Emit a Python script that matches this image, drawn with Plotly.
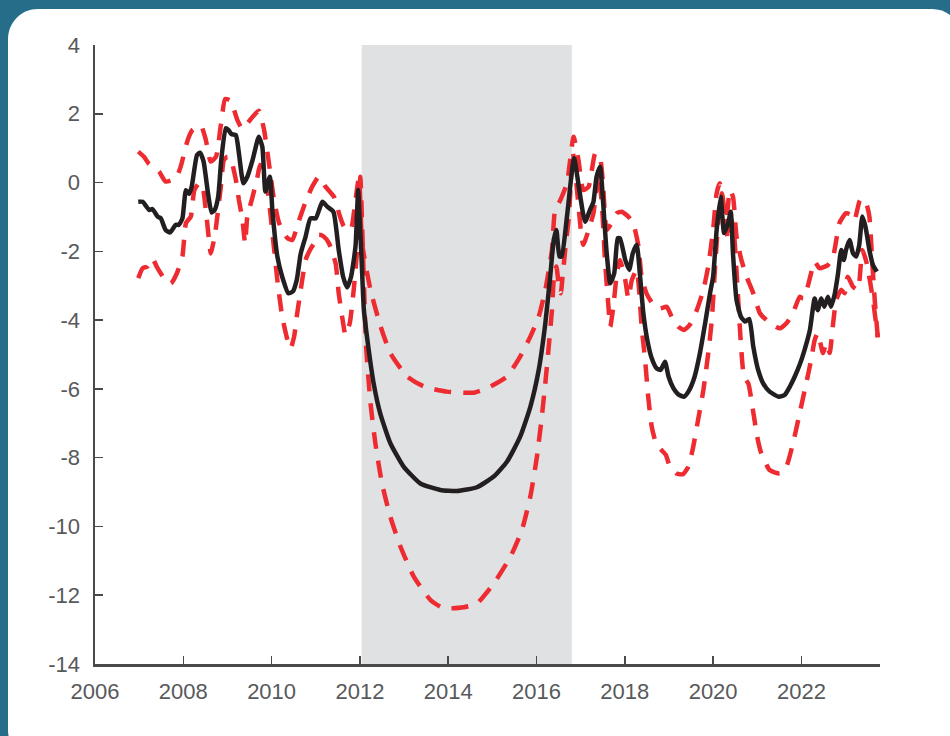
import plotly.graph_objects as go

# ---------------- data ----------------
black_x = [2006.98, 2007.08, 2007.23, 2007.30, 2007.42, 2007.49, 2007.60, 2007.70, 2007.83, 2007.90,
           2007.98, 2008.06, 2008.13, 2008.19, 2008.31, 2008.38, 2008.46, 2008.55, 2008.64, 2008.71,
           2008.79, 2008.86, 2008.96, 2009.02, 2009.09, 2009.19, 2009.26, 2009.36, 2009.45, 2009.57,
           2009.71, 2009.79, 2009.86, 2009.96, 2010.02, 2010.13, 2010.24, 2010.38, 2010.48, 2010.57,
           2010.66, 2010.77, 2010.88, 2011.00, 2011.15, 2011.26, 2011.40, 2011.52, 2011.62, 2011.71,
           2011.80, 2011.90, 2011.96, 2012.00, 2012.04, 2012.09, 2012.20, 2012.31, 2012.46, 2012.69,
           2012.99, 2013.37, 2013.82, 2014.20, 2014.65, 2015.03, 2015.33, 2015.63, 2015.86, 2016.05,
           2016.20, 2016.31, 2016.39, 2016.45, 2016.52, 2016.57, 2016.69, 2016.85, 2016.97, 2017.10,
           2017.21, 2017.29, 2017.36, 2017.44, 2017.51, 2017.59, 2017.67, 2017.76, 2017.84, 2017.89,
           2018.01, 2018.10, 2018.18, 2018.27, 2018.34, 2018.42, 2018.51, 2018.61, 2018.72, 2018.81,
           2018.91, 2018.99, 2019.10, 2019.21, 2019.34, 2019.44, 2019.57, 2019.70, 2019.82, 2019.93,
           2020.00, 2020.08, 2020.17, 2020.25, 2020.34, 2020.40, 2020.45, 2020.53, 2020.63, 2020.72,
           2020.82, 2020.91, 2021.02, 2021.13, 2021.28, 2021.49, 2021.62, 2021.74, 2021.85, 2021.96,
           2022.07, 2022.19, 2022.30, 2022.37, 2022.45, 2022.52, 2022.60, 2022.67, 2022.75, 2022.83,
           2022.90, 2022.96, 2023.01, 2023.09, 2023.17, 2023.24, 2023.31, 2023.38, 2023.45, 2023.54,
           2023.62, 2023.71]
black_y = [-0.56, -0.56, -0.80, -0.77, -0.99, -1.04, -1.38, -1.45, -1.23, -1.23,
           -1.04, -0.22, -0.33, -0.12, 0.80, 0.87, 0.61, -0.22, -0.87, -0.80,
           -0.41, 0.66, 1.58, 1.53, 1.41, 1.38, 0.85, -0.02, 0.17, 0.66,
           1.33, 1.04, -0.26, 0.17, -0.85, -2.15, -2.74, -3.22, -3.17, -2.83,
           -2.06, -1.57, -1.04, -1.04, -0.56, -0.70, -0.85, -1.96, -2.74, -3.05,
           -2.74, -1.86, -0.22, -1.20, -2.30, -3.70, -4.87, -5.83, -6.71, -7.58,
           -8.26, -8.75, -8.94, -8.97, -8.86, -8.55, -8.12, -7.39, -6.52, -5.45,
           -4.09, -2.74, -1.67, -1.38, -2.15, -2.15, -0.99, 0.71, -0.22, -1.14,
           -0.80, -0.56, 0.17, 0.46, -0.60, -2.06, -2.93, -2.64, -1.62, -1.62,
           -2.25, -2.54, -2.06, -1.81, -2.64, -3.80, -4.58, -5.11, -5.40, -5.45,
           -5.21, -5.64, -5.98, -6.16, -6.23, -6.08, -5.69, -4.97, -4.09, -3.22,
           -2.74, -1.38, -0.41, -1.47, -1.18, -0.85, -2.06, -3.41, -3.90, -4.04,
           -3.97, -4.77, -5.45, -5.83, -6.08, -6.23, -6.18, -5.93, -5.64, -5.30,
           -4.87, -4.30, -3.37, -3.71, -3.37, -3.61, -3.32, -3.61, -3.27, -2.64,
           -1.96, -2.25, -1.96, -1.67, -2.06, -2.15, -1.81, -0.99, -1.28, -1.96,
           -2.40, -2.59]

upper_x = [2006.98, 2007.11, 2007.21, 2007.45, 2007.60, 2007.83, 2007.94, 2008.10, 2008.21, 2008.40,
           2008.51, 2008.62, 2008.74, 2008.85, 2008.95, 2009.07, 2009.23, 2009.34, 2009.53, 2009.71,
           2009.83, 2009.96, 2010.05, 2010.17, 2010.36, 2010.47, 2010.60, 2010.77, 2010.92, 2011.07,
           2011.22, 2011.41, 2011.55, 2011.64, 2011.79, 2011.90, 2011.98, 2012.05, 2012.24, 2012.47,
           2012.69, 2013.07, 2013.45, 2013.97, 2014.58, 2014.88, 2015.33, 2015.63, 2015.86, 2016.05,
           2016.20, 2016.35, 2016.42, 2016.54, 2016.69, 2016.84, 2016.95, 2017.06, 2017.18, 2017.33,
           2017.44, 2017.51, 2017.59, 2017.70, 2017.82, 2017.93, 2018.08, 2018.19, 2018.31, 2018.38,
           2018.49, 2018.65, 2018.80, 2018.95, 2019.06, 2019.21, 2019.34, 2019.47, 2019.63, 2019.78,
           2019.89, 2020.00, 2020.08, 2020.15, 2020.23, 2020.30, 2020.38, 2020.45, 2020.53, 2020.64,
           2020.76, 2020.91, 2021.06, 2021.21, 2021.36, 2021.51, 2021.66, 2021.81, 2021.96, 2022.04,
           2022.15, 2022.30, 2022.41, 2022.60, 2022.71, 2022.79, 2022.86, 2023.01, 2023.13, 2023.20,
           2023.31, 2023.36, 2023.47, 2023.54, 2023.60, 2023.66, 2023.73]
upper_y = [0.90, 0.75, 0.56, 0.32, 0.03, 0.12, 0.46, 1.24, 1.53, 1.65,
           1.24, 0.61, 0.75, 1.67, 2.43, 2.38, 1.80, 1.56, 1.85, 2.09,
           1.53, 0.37, -0.46, -1.18, -1.62, -1.67, -1.18, -0.56, -0.12, 0.17,
           -0.12, -0.41, -0.99, -1.28, -1.38, -0.51, 0.17, -1.77, -3.12, -4.19,
           -4.96, -5.64, -5.93, -6.08, -6.11, -5.98, -5.64, -5.06, -4.48, -3.90,
           -3.12, -1.96, -0.80, -0.51, -0.02, 1.33, 0.66, -0.22, -0.12, 0.85,
           0.71, -0.12, -1.38, -1.18, -0.89, -0.85, -0.99, -1.18, -1.86, -2.74,
           -3.22, -3.56, -3.66, -3.61, -3.90, -4.19, -4.29, -4.14, -3.71, -3.12,
           -2.43, -1.38, -0.31, -0.02, -0.70, -1.09, -0.22, -0.41, -1.57, -2.25,
           -2.74, -3.22, -3.80, -4.00, -4.14, -4.24, -4.09, -3.80, -3.32, -3.37,
           -2.99, -2.30, -2.49, -2.40, -2.20, -1.67, -1.18, -0.89, -0.94, -1.10,
           -0.56, -0.46, -0.61, -0.99, -2.20, -3.40, -4.50]

lower_x = [2006.98, 2007.08, 2007.19, 2007.30, 2007.40, 2007.60, 2007.72, 2007.85, 2007.98, 2008.06,
           2008.17, 2008.25, 2008.36, 2008.43, 2008.51, 2008.59, 2008.62, 2008.71, 2008.77, 2008.85,
           2008.92, 2009.00, 2009.07, 2009.19, 2009.26, 2009.34, 2009.40, 2009.45, 2009.57, 2009.68,
           2009.74, 2009.83, 2009.90, 2009.98, 2010.05, 2010.13, 2010.24, 2010.36, 2010.43, 2010.51,
           2010.58, 2010.67, 2010.77, 2010.87, 2010.96, 2011.07, 2011.18, 2011.30, 2011.45, 2011.52,
           2011.62, 2011.67, 2011.77, 2011.86, 2011.92, 2011.98, 2012.01, 2012.09, 2012.14, 2012.24,
           2012.35, 2012.50, 2012.69, 2012.92, 2013.22, 2013.60, 2013.90, 2014.35, 2014.65, 2015.03,
           2015.41, 2015.67, 2015.86, 2016.01, 2016.12, 2016.20, 2016.27, 2016.35, 2016.39, 2016.45,
           2016.50, 2016.55, 2016.59, 2016.65, 2016.74, 2016.82, 2016.91, 2017.02, 2017.06, 2017.18,
           2017.29, 2017.40, 2017.48, 2017.55, 2017.63, 2017.67, 2017.74, 2017.82, 2017.89, 2018.01,
           2018.08, 2018.16, 2018.27, 2018.33, 2018.38, 2018.46, 2018.53, 2018.61, 2018.72, 2018.83,
           2018.93, 2019.02, 2019.17, 2019.32, 2019.44, 2019.55, 2019.66, 2019.78, 2019.89, 2019.97,
           2020.04, 2020.12, 2020.20, 2020.27, 2020.34, 2020.42, 2020.48, 2020.55, 2020.62, 2020.70,
           2020.80, 2020.90, 2021.00, 2021.09, 2021.28, 2021.51, 2021.66, 2021.81, 2021.96, 2022.11,
           2022.22, 2022.30, 2022.37, 2022.49, 2022.56, 2022.64, 2022.71, 2022.79, 2022.90, 2022.98,
           2023.05, 2023.17, 2023.28, 2023.38, 2023.48, 2023.62, 2023.73]
lower_y = [-2.78, -2.49, -2.44, -2.20, -2.45, -2.85, -2.93, -2.65, -2.15, -1.18,
           -0.99, -0.22, -0.02, -0.07, -0.80, -1.77, -2.06, -1.57, -0.99, -0.12,
           0.66, 0.75, 0.71, 0.08, -0.51, -1.09, -1.77, -0.99, -0.41, 0.17,
           0.51, 0.37, -0.12, -0.99, -1.86, -2.83, -3.90, -4.58, -4.82, -4.48,
           -3.80, -3.03, -2.25, -1.96, -1.77, -1.52, -1.57, -1.77, -2.35, -3.22,
           -4.09, -4.43, -4.09, -3.12, -2.25, -0.99, 0.17, -2.90, -4.76, -6.42,
           -7.58, -8.75, -9.72, -10.59, -11.46, -12.14, -12.38, -12.35, -12.24, -11.66,
           -10.88, -10.10, -9.13, -7.97, -6.81, -5.83, -4.87, -3.71, -2.83, -2.44,
           -2.93, -3.22, -2.74, -1.96, -0.89, 0.90, -0.12, -1.57, -1.81, -1.38,
           -0.89, 0.27, -0.60, -2.25, -3.61, -4.19, -3.61, -2.64, -2.25, -2.83,
           -3.37, -2.83, -2.54, -3.22, -4.19, -5.16, -6.23, -7.10, -7.63, -7.78,
           -7.92, -8.26, -8.46, -8.48, -8.26, -7.68, -6.90, -6.03, -4.96, -4.00,
           -2.54, -1.09, -0.31, -0.99, -1.67, -1.09, -1.60, -3.00, -4.50, -5.65,
           -5.85, -6.60, -7.40, -7.87, -8.36, -8.46, -8.26, -7.58, -6.71, -5.83,
           -5.16, -4.58, -4.38, -4.96, -4.67, -4.96, -4.19, -3.41, -3.12, -3.22,
           -2.74, -3.03, -3.12, -1.96, -2.35, -3.40, -4.50]

shade_start = 2012.04
shade_end = 2016.80

x_ticks = [2006, 2008, 2010, 2012, 2014, 2016, 2018, 2020, 2022]
y_ticks = [-14, -12, -10, -8, -6, -4, -2, 0, 2, 4]
y_ticktext = [str(v) for v in y_ticks]  # hyphen-minus like the reference

# ---------------- figure ----------------
W, H = 950, 736
L, R, T, B = 95, 70, 45, 72
PW, PH = W - L - R, H - T - B

RED = "#ee2b30"
BLACK = "#231f20"
TEAL = "#256d89"

fig = go.Figure()

for xs, ys in [(lower_x, lower_y), (upper_x, upper_y)]:
    fig.add_trace(go.Scatter(
        x=xs, y=ys, mode="lines",
        line=dict(color=RED, width=4.5, dash="17px,12px", shape="spline", smoothing=0.5),
        hoverinfo="skip", showlegend=False))

fig.add_trace(go.Scatter(
    x=black_x, y=black_y, mode="lines",
    line=dict(color=BLACK, width=4.5, shape="spline", smoothing=0.5),
    hoverinfo="skip", showlegend=False))


def pp(px, py):
    return (px - L) / PW, (H - B - py) / PH


def card_path(x0, y0, x1, y1, r):
    k = 0.5523 * r

    def f(px, py):
        a, b = pp(px, py)
        return f"{a:.5f},{b:.5f}"
    s = "M " + f(x0 + r, y0)
    s += " L " + f(x1 - r, y0)
    s += " C " + f(x1 - r + k, y0) + " " + f(x1, y0 + r - k) + " " + f(x1, y0 + r)
    s += " L " + f(x1, y1 - r)
    s += " C " + f(x1, y1 - r + k) + " " + f(x1 - r + k, y1) + " " + f(x1 - r, y1)
    s += " L " + f(x0 + r, y1)
    s += " C " + f(x0 + r - k, y1) + " " + f(x0, y1 - r + k) + " " + f(x0, y1 - r)
    s += " L " + f(x0, y0 + r)
    s += " C " + f(x0, y0 + r - k) + " " + f(x0 + r - k, y0) + " " + f(x0 + r, y0)
    s += " Z"
    return s


shapes = [
    dict(type="path", xref="paper", yref="paper", path=card_path(8, 9, 962, 760, 30),
         fillcolor="white", line=dict(width=0), layer="below"),
    dict(type="rect", xref="x", yref="paper", x0=shade_start, x1=shade_end, y0=0, y1=1,
         fillcolor="#e0e1e3", line=dict(width=0), layer="below"),
]

axis_common = dict(
    showgrid=False, zeroline=False, showline=True, linecolor="#4a4a4a", linewidth=2.5,
    ticks="inside", ticklen=8, tickwidth=1.5, tickcolor="#4a4a4a",
    tickfont=dict(family="Liberation Sans, Arial, sans-serif", size=22, color="#58595b"),
)

fig.update_layout(
    width=W, height=H,
    margin=dict(l=L, r=R, t=T, b=B),
    paper_bgcolor=TEAL, plot_bgcolor="rgba(0,0,0,0)",
    shapes=shapes, showlegend=False,
    xaxis=dict(range=[2006, 2023.78], tickvals=x_ticks, ticktext=[str(v) for v in x_ticks],
               ticklabelstandoff=6, **axis_common),
    yaxis=dict(range=[-14, 4], tickvals=y_ticks, ticktext=y_ticktext,
               ticklabelstandoff=8, **axis_common),
)

fig.write_html(
    "out.html",
    config={"displayModeBar": False, "staticPlot": True},
    post_script="document.body.style.margin='0';document.body.style.background='" + TEAL + "';",
)
